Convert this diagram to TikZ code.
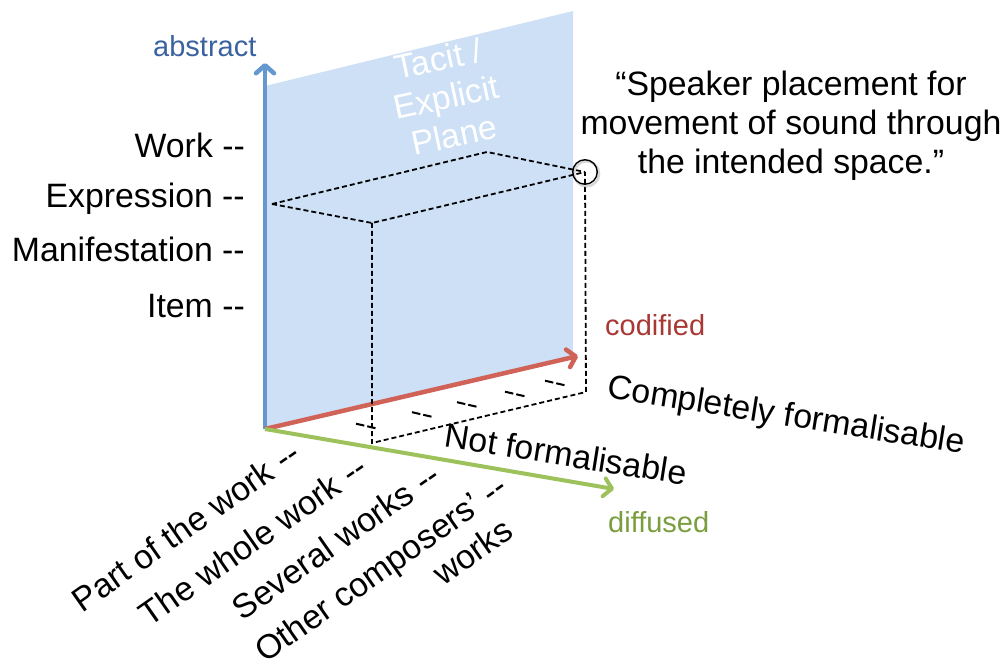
\documentclass[tikz,border=0pt]{standalone}
\usepackage{fontspec}
\setmainfont{Liberation Sans}[Ligatures=TeXOff]
\usetikzlibrary{arrows.meta,calc}
\definecolor{planeblue}{RGB}{205,224,245}
\definecolor{axisblue}{RGB}{100,152,206}
\definecolor{labelblue}{RGB}{58,98,160}
\definecolor{axisred}{RGB}{208,98,88}
\definecolor{labelred}{RGB}{168,56,52}
\definecolor{axisgreen}{RGB}{157,194,92}
\definecolor{labelgreen}{RGB}{122,158,62}
\begin{document}
\begin{tikzpicture}[x=1pt,y=-1pt,
  txt/.style={font=\fontsize{33.8}{39}\selectfont, inner sep=0pt},
  axislbl/.style={font=\fontsize{29}{34}\selectfont, inner sep=0pt},
  axisarrow/.style={line width=4.5pt, -{Straight Barb[length=8pt,width=18pt,round]}},
  boxline/.style={line width=1.8pt, dash pattern=on 5pt off 3pt},
  tickmark/.style={line width=2pt, dash pattern=on 8.5pt off 3pt},
  planetext/.style={txt, text=white, align=center, rotate=12},
  worklbl/.style={txt, anchor=east, rotate=35}
]
\useasboundingbox (0,0) rectangle (1005,663);

% tacit / explicit plane
\fill[planeblue] (265,429) -- (265,86) -- (573,11) -- (573,358) -- cycle;
\node[planetext] (plane) at (446,97) {Tacit /\\Explicit\\Plane};

% axes
\coordinate (O) at (265,429);
\coordinate (abs) at (265,63);
\coordinate (cod) at (578,356);
\coordinate (dif) at (614,489);
\draw[axisarrow, axisblue] (O) -- (abs);
\draw[axisarrow, axisred] (O) -- (cod);
\draw[axisarrow, axisgreen, line width=4pt] (O) -- (dif);

\node[axislbl, text=labelblue, anchor=base west] (abstract) at (153,57) {abstract};
\node[axislbl, text=labelred, anchor=base west] (codified) at (605,336) {codified};
\node[axislbl, text=labelgreen, anchor=base west] (diffused) at (608,532) {diffused};

% dashed box locating the example
\coordinate (L) at (272,204);
\coordinate (B) at (487,152);
\coordinate (R) at (585,172);
\coordinate (F) at (372,223);
\coordinate (Fb) at (372,443);
\coordinate (Rb) at (586,392);
\draw[boxline] (L) -- (B) -- (R);
\draw[boxline] (L) -- (F) -- (R);
\draw[boxline] (F) -- (Fb) -- (Rb) -- (R);

% tick marks along the codified axis
\foreach \p in {(366,426),(422,414.5),(467,404.5),(515,394),(555,383)}
  \draw[tickmark] \p +(-10,-2.3) -- +(10,2.3);

% speaker placement marker with a soft shadow
\draw[black!30, line width=2.5pt, opacity=0.5] ($(R)+(1.6,1.8)$) circle (12.5);
\node[circle, draw, line width=1.4pt, minimum size=24.5pt, inner sep=0pt] (spk) at (R) {};

% abstraction levels
\node[txt, anchor=base east] (work) at (245,158) {Work --};
\node[txt, anchor=base east] (expr) at (245,208) {Expression --};
\node[txt, anchor=base east] (mani) at (245,262) {Manifestation --};
\node[txt, anchor=base east] (item) at (245,318) {Item --};

% scope of the work
\node[worklbl] (part) at (296,449) {Part of the work --};
\node[worklbl] (whole) at (363,463) {The whole work --};
\node[worklbl] (several) at (436,471) {Several works --};
\node[txt, align=right, rotate=35, anchor=north east] (other) at (496,472)
  {Other composers’ --\\works\hphantom{ -}};

% formalisation
\node[txt, rotate=-9] (notf) at (566,454) {Not formalisable};
\node[txt, rotate=-9] (compf) at (786,417) {Completely formalisable};

% quotation
\node[txt, align=center, anchor=north] (quote) at (791,71)
  {“Speaker placement for\\movement of sound through\\the intended space.”};
\end{tikzpicture}
\end{document}
